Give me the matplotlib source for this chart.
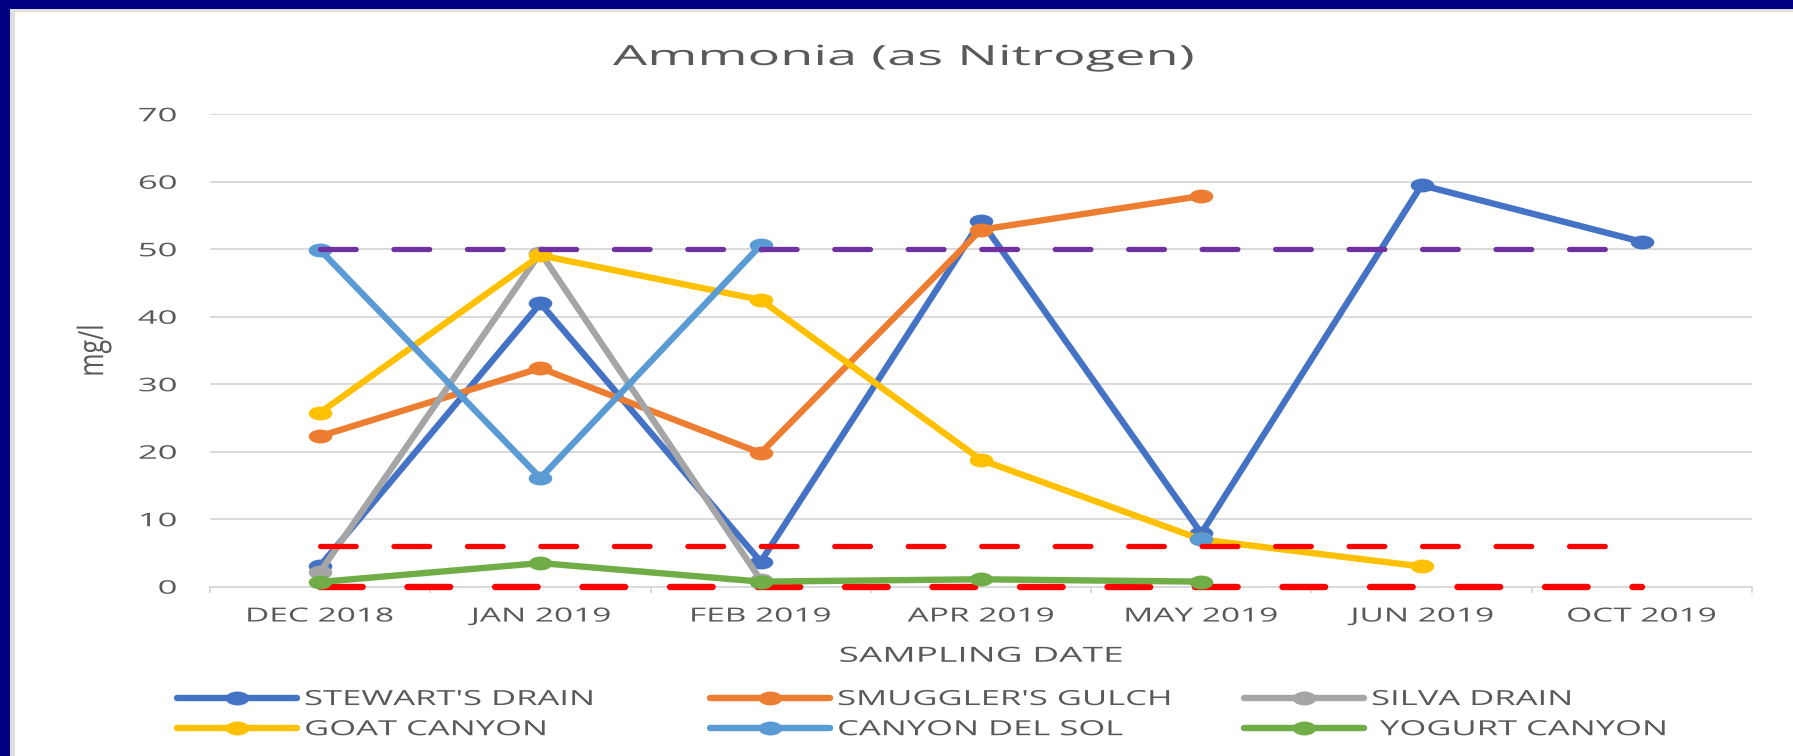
#!/usr/bin/env python3
"""Ammonia (as Nitrogen) sampling chart, redrawn from a stretched Excel export."""

import matplotlib

matplotlib.use("Agg")
import matplotlib.pyplot as plt
import numpy as np
from matplotlib import patheffects
from matplotlib.patches import Rectangle
from matplotlib.path import Path
from matplotlib.transforms import Affine2D

nan = np.nan

sampling_dates = ["DEC 2018", "JAN 2019", "FEB 2019", "APR 2019", "MAY 2019", "JUN 2019", "OCT 2019"]

site_names = [
    "STEWART'S DRAIN",
    "SMUGGLER'S GULCH",
    "SILVA DRAIN",
    "GOAT CANYON",
    "CANYON DEL SOL",
    " YOGURT CANYON",
]
stewarts_drain = [3.1, 42.0, 3.7, 54.2, 7.9, 59.5, 51.1]
smugglers_gulch = [22.3, 32.4, 19.8, 52.9, 57.9, nan, nan]
silva_drain = [2.2, 49.5, 1.0, nan, nan, nan, nan]
goat_canyon = [25.8, 49.1, 42.5, 18.8, 7.0, 3.0, nan]
canyon_del_sol = [49.9, 16.1, 50.6, nan, 7.1, nan, nan]
yogurt_canyon = [0.7, 3.5, 0.75, 1.1, 0.75, nan, nan]

limit_purple = [50, 50, 50, 50, 50, 50, 50]
limit_red_high = [6, 6, 6, 6, 6, 6, 6]
limit_red_low = [0, 0, 0, 0, 0, 0, 0]

y_ticks = [0, 10, 20, 30, 40, 50, 60, 70]

site_colors = ["#4472C4", "#ED7D31", "#A5A5A5", "#FFC000", "#5B9BD5", "#70AD47"]
TEXT = "#595959"
GRID = "#D9D9D9"

W, H = 1793, 756

plt.rcParams.update(
    {
        "font.family": ["Open Sans", "DejaVu Sans"],
        "lines.scale_dashes": False,
    }
)


class Stretch(patheffects.AbstractPathEffect):
    """Widen glyphs about an anchor; the original export is squashed sideways."""

    def __init__(self, sx=1.0, sy=1.0, anchor="center"):
        super().__init__()
        self.sx = sx
        self.sy = sy
        self.anchor = anchor

    def draw_path(self, renderer, gc, tpath, affine, rgbFace=None):
        verts = tpath.vertices
        if tpath.codes is not None:
            verts = verts[tpath.codes != Path.CLOSEPOLY]
        if len(verts) == 0:
            return
        xmin, ymin = verts.min(axis=0)
        xmax, ymax = verts.max(axis=0)
        px = {"left": 0.0, "center": 0.5 * (xmin + xmax), "right": xmax}[self.anchor]
        py = 0.5 * (ymin + ymax)
        widen = Affine2D().translate(-px, -py).scale(self.sx, self.sy).translate(px, py)
        renderer.draw_path(gc, tpath, widen + affine, rgbFace)


# markers in the export are wide ellipses
ELLIPSE = Path.unit_circle().transformed(Affine2D().scale(1.7, 1.0))


def main():
    fig = plt.figure(figsize=(W / 100, H / 100), dpi=100)
    fig.patch.set_facecolor("#000080")
    fig.add_artist(Rectangle((10 / W, 0), 1, (H - 9) / H, transform=fig.transFigure,
                             facecolor="#DEDEDE", edgecolor="none", zorder=-10))
    fig.add_artist(Rectangle((15 / W, 0), 1, (H - 12) / H, transform=fig.transFigure,
                             facecolor="white", edgecolor="none", zorder=-9))

    ax = fig.add_axes([210 / W, (H - 586.7) / H, 1542 / W, 472.4 / H])
    ax.set_facecolor("none")
    x = np.arange(len(sampling_dates))

    series = [stewarts_drain, smugglers_gulch, silva_drain, goat_canyon, canyon_del_sol, yogurt_canyon]
    lines = []
    for values, color in zip(series, site_colors):
        (ln,) = ax.plot(x, values, color=color, lw=4.6, marker=ELLIPSE, markersize=17,
                        markeredgewidth=0, solid_capstyle="round", solid_joinstyle="round",
                        zorder=3, clip_on=False)
        lines.append(ln)

    ax.plot(x, limit_red_low, color="#FF0000", lw=4.6, linestyle=(0, (30.7, 32.3)),
            dash_capstyle="round", zorder=2.8, clip_on=False)
    ax.plot(x, limit_red_high, color="#FF0000", lw=3.8, linestyle=(0, (25.7, 27.2)),
            dash_capstyle="round", zorder=4, clip_on=False)
    ax.plot(x, limit_purple, color="#7030A0", lw=3.8, linestyle=(0, (25.7, 27.2)),
            dash_capstyle="round", zorder=4, clip_on=False)

    ax.set_xlim(-0.5, len(sampling_dates) - 0.5)
    ax.set_ylim(0, 70)
    ax.set_yticks(y_ticks)
    ax.set_xticks(x, labels=sampling_dates)
    ax.set_xticks(np.arange(len(sampling_dates) + 1) - 0.5, minor=True)
    ax.tick_params(axis="x", which="major", length=0, pad=15, labelsize=14, labelcolor=TEXT)
    ax.tick_params(axis="x", which="minor", length=4.5, width=1.4, color=GRID, direction="out")
    ax.tick_params(axis="y", length=0, pad=24, labelsize=13.5, labelcolor=TEXT)
    ax.grid(axis="y", color=GRID, lw=1.4, zorder=0)
    ax.set_axisbelow(True)
    for side in ("left", "right", "top"):
        ax.spines[side].set_visible(False)
    ax.spines["bottom"].set_color(GRID)
    ax.spines["bottom"].set_linewidth(1.4)
    ax.spines["bottom"].set_zorder(1.5)

    for lbl in ax.get_xticklabels():
        lbl.set_path_effects([Stretch(1.72)])
    for lbl in ax.get_yticklabels():
        lbl.set_path_effects([Stretch(1.85, anchor="right")])

    ax.set_xlabel("SAMPLING DATE", fontsize=15, color=TEXT)
    ax.xaxis.set_label_coords(0.5, -0.125)
    ax.xaxis.label.set_path_effects([Stretch(1.78)])

    ax.set_ylabel("mg/l", fontsize=18, color=TEXT)
    ax.yaxis.label.set_verticalalignment("center")
    ax.yaxis.set_label_coords(-0.0752, 0.5)
    ax.yaxis.label.set_path_effects([Stretch(1.0, 1.4)])

    fig.text(903 / W, 1 - 65 / H, "Ammonia (as Nitrogen)", ha="center", va="baseline",
             fontsize=20, color=TEXT, path_effects=[Stretch(1.95)])

    # Excel lays the legend out row by row in three columns
    columns = [[0, 3], [1, 4], [2, 5]]
    col_left = [177, 710, 1244]
    for col, left in zip(columns, col_left):
        leg = fig.legend([lines[i] for i in col], [site_names[i] for i in col],
                         loc="upper left", bbox_to_anchor=(left / W, 0.0886),
                         frameon=False, borderpad=0, borderaxespad=0, numpoints=1,
                         handlelength=5.76, handletextpad=0.34, labelspacing=0.44,
                         fontsize=15, labelcolor=TEXT)
        for txt in leg.get_texts():
            txt.set_path_effects([Stretch(1.66, anchor="left")])

    fig.savefig("out.png", dpi=100, facecolor=fig.get_facecolor())
    plt.close(fig)


if __name__ == "__main__":
    main()
